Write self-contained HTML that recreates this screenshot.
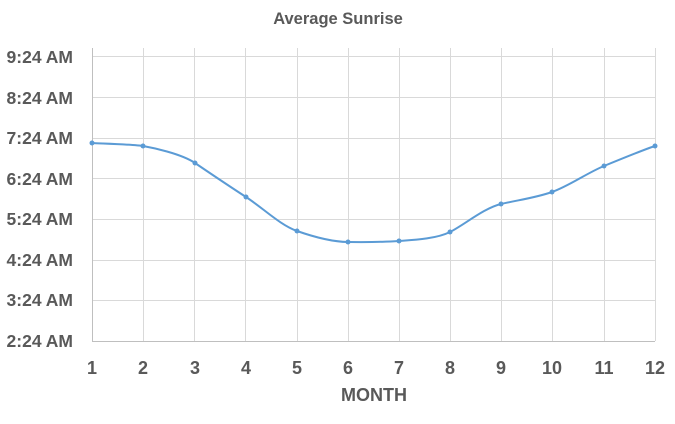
<!DOCTYPE html>
<html><head><meta charset="utf-8"><style>
html,body{margin:0;padding:0;background:#fff;}
svg text{font-family:"Liberation Sans",sans-serif;font-weight:bold;fill:#595959;}
</style></head><body>
<svg width="675" height="419" viewBox="0 0 675 419" xmlns="http://www.w3.org/2000/svg">
<text x="338" y="24" font-size="16.5" text-anchor="middle">Average Sunrise</text>
<g stroke="#d9d9d9" stroke-width="1">
<line x1="92" y1="56.5" x2="655" y2="56.5"/>
<line x1="92" y1="97.5" x2="655" y2="97.5"/>
<line x1="92" y1="138.5" x2="655" y2="138.5"/>
<line x1="92" y1="178.5" x2="655" y2="178.5"/>
<line x1="92" y1="219.5" x2="655" y2="219.5"/>
<line x1="92" y1="260.5" x2="655" y2="260.5"/>
<line x1="92" y1="300.5" x2="655" y2="300.5"/>
<line x1="143.5" y1="48" x2="143.5" y2="341"/>
<line x1="194.5" y1="48" x2="194.5" y2="341"/>
<line x1="245.5" y1="48" x2="245.5" y2="341"/>
<line x1="297.5" y1="48" x2="297.5" y2="341"/>
<line x1="348.5" y1="48" x2="348.5" y2="341"/>
<line x1="399.5" y1="48" x2="399.5" y2="341"/>
<line x1="450.5" y1="48" x2="450.5" y2="341"/>
<line x1="501.5" y1="48" x2="501.5" y2="341"/>
<line x1="552.5" y1="48" x2="552.5" y2="341"/>
<line x1="604.5" y1="48" x2="604.5" y2="341"/>
<line x1="655.5" y1="48" x2="655.5" y2="341"/>
</g>
<g stroke="#bfbfbf" stroke-width="1">
<line x1="92.5" y1="48" x2="92.5" y2="341"/>
<line x1="92" y1="341.5" x2="655" y2="341.5"/>
</g>
<g font-size="17.5" text-anchor="end">
<text x="73" y="63">9:24 AM</text>
<text x="73" y="104">8:24 AM</text>
<text x="73" y="144">7:24 AM</text>
<text x="73" y="185">6:24 AM</text>
<text x="73" y="225">5:24 AM</text>
<text x="73" y="266">4:24 AM</text>
<text x="73" y="306">3:24 AM</text>
<text x="73" y="347">2:24 AM</text>
</g>
<g font-size="18" text-anchor="middle">
<text x="92" y="374">1</text><text x="143" y="374">2</text><text x="195" y="374">3</text>
<text x="246" y="374">4</text><text x="297" y="374">5</text><text x="348" y="374">6</text>
<text x="399" y="374">7</text><text x="450" y="374">8</text><text x="501" y="374">9</text>
<text x="552" y="374">10</text><text x="604" y="374">11</text><text x="655" y="374">12</text>
</g>
<text x="374" y="401" font-size="18" text-anchor="middle">MONTH</text>
<path fill="none" stroke="#5b9bd5" stroke-width="2" d="M92,143 C100.5,143.5 134.5,144.5 143,146 C151.5,147.5 181,153.5 195,163 C209,172.5 229,186 246,197 C263,208 280,225 297,231 C314,237 331,241.8 348,242 C365,242.2 385,242 399,241 C413,240 436,239 450,232 C464,225 484,208 501,204 C518,200 535,198 552,192 C569,186 587,173 604,166 C621,159 646,149 655,146"/>
<g fill="#5b9bd5">
<circle cx="92" cy="143" r="2.5"/><circle cx="143" cy="146" r="2.5"/><circle cx="195" cy="163" r="2.5"/>
<circle cx="246" cy="197" r="2.5"/><circle cx="297" cy="231" r="2.5"/><circle cx="348" cy="242" r="2.5"/>
<circle cx="399" cy="241" r="2.5"/><circle cx="450" cy="232" r="2.5"/><circle cx="501" cy="204" r="2.5"/>
<circle cx="552" cy="192" r="2.5"/><circle cx="604" cy="166" r="2.5"/><circle cx="655" cy="146" r="2.5"/>
</g>
</svg>
</body></html>
